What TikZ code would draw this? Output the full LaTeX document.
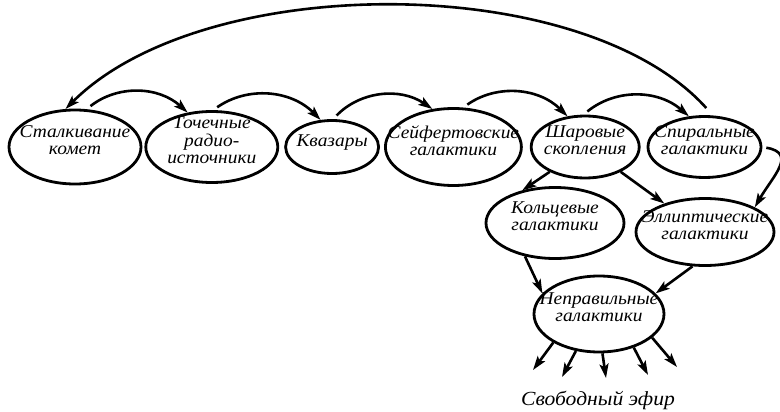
\documentclass[tikz,border=0pt]{standalone}
\usepackage{fontspec}
\newfontfamily\rufont[FakeStretch=1.08]{Liberation Serif}
\usetikzlibrary{positioning,shapes,arrows.meta}

\newcommand{\gal}[1]{\makebox[0pt]{\smash{\begin{tabular}{@{}c@{}}#1\end{tabular}}}}

\tikzset{
  galaxy/.style 2 args={ellipse, draw, line width=2.8pt, inner sep=0pt,
    minimum width=#1, minimum height=#2,
    font=\rufont\itshape\fontsize{18}{17}\selectfont},
  arr/.style={-{Stealth[length=14pt,width=9pt,inset=3pt]}, line width=2.6pt},
  hop/.style={arr, bend left=40, shorten <=5pt},
}

\begin{document}
\begin{tikzpicture}[x=1pt, y=1pt, node distance=2pt]
    \path[use as bounding box, fill=white] (0,0) rectangle (780,-412);
    % Define nodes
    \node (komet) [galaxy={132}{74}] at (75,-147) {\gal{Сталкивание\\комет}};
    \node (radio) [galaxy={132}{71}, right=of komet] {\gal{Точечные\\радио-\\источники}};
    \node (kvaz) [galaxy={93}{53}, right=5pt of radio] {\gal{Квазары}};
    \node (seyf) [galaxy={136}{77}, right=4pt of kvaz] {\gal{Сейфертовские\\галактики}};
    \node (shar) [galaxy={108}{62}, right=7pt of seyf] {\gal{Шаровые\\скопления}};
    \node (spir) [galaxy={113}{61}, right=6pt of shar] {\gal{Спиральные\\галактики}};

    \node (kolc) [galaxy={138}{71}] at (555,-223) {\gal{Кольцевые\\галактики}};
    \node (ellip) [galaxy={138}{67}] at (705,-232) {\gal{Эллиптические\\галактики}};
    \node (irr) [galaxy={130}{76}] at (599,-314) {\gal{Неправильные\\галактики}};
    \node (efir) [font=\rufont\itshape\fontsize{20}{22}\selectfont] at (598,-400) {Свободный эфир};

    % Draw arrows
    \draw[hop] (komet.73) to (radio.125);
    \draw[hop] (radio.88) to (kvaz.113);
    \draw[hop] (kvaz.88) to (seyf.119);
    \draw[hop] (seyf.76) to (shar.120);
    \draw[hop] (shar.93) to (spir.117);
    \draw[arr, shorten <=10pt] (spir.75) to[out=132, in=45, looseness=0.77] (komet.104);
    \draw[arr, shorten <=4pt] (spir.east) to[out=-10, in=60, looseness=1.5] (ellip.north east);

    \draw[arr] (shar.215) -- (kolc.135);
    \draw[arr] (shar.325) -- (ellip.145);
    \draw[arr] (kolc.228) -- (irr.160);
    \draw[arr] (ellip.250) -- (irr.20);

    % out into the ether
    \foreach \a/\x/\y [count=\i] in {212/533/370, 238/562/377, 275/606/378, 316/648/375, 336/677/367} {
        \coordinate (out\i) at (\x,-\y);
        \draw[arr] (irr.\a) -- (out\i);
    }
\end{tikzpicture}
\end{document}
